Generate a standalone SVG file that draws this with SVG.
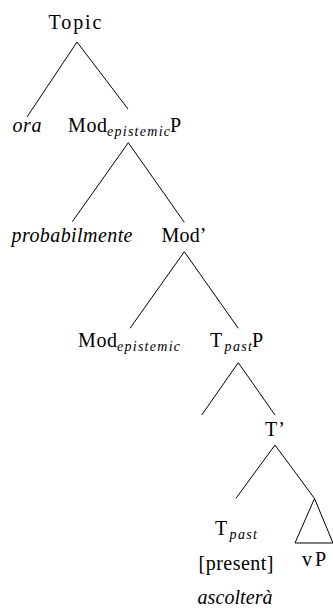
<svg xmlns="http://www.w3.org/2000/svg" width="333" height="609" viewBox="0 0 333 609">
<style>
text{font-size:20px;fill:#000}
.it{font-style:italic}
.sub{font-style:italic;font-size:14px}
.edge{stroke:#000;stroke-width:1;fill:none}
</style>
<rect width="333" height="609" fill="#fff"/>
<g id="connectors">
<line class="edge" x1="77" y1="42" x2="27" y2="117"/>
<line class="edge" x1="77" y1="42" x2="128" y2="109"/>
<line class="edge" x1="128.3" y1="142.7" x2="72.3" y2="221.7"/>
<line class="edge" x1="128.3" y1="142.7" x2="184.3" y2="222.3"/>
<line class="edge" x1="184.3" y1="251.7" x2="130" y2="328.3"/>
<line class="edge" x1="184.3" y1="251.7" x2="238.3" y2="328.3"/>
<line class="edge" x1="238.3" y1="362.7" x2="201.7" y2="415"/>
<line class="edge" x1="238.3" y1="362.7" x2="275" y2="415"/>
<line class="edge" x1="275" y1="445" x2="236" y2="498.3"/>
<line class="edge" x1="275" y1="445" x2="314.5" y2="498.5"/>
</g>
<g font-family="Liberation Serif, DejaVu Serif, serif">
<g id="topic"><text x="48.5" y="29" textLength="53" lengthAdjust="spacing">Topic</text></g>
<g id="ora"><text class="it" x="12.5" y="132" textLength="29" lengthAdjust="spacing">ora</text></g>
<g id="modP">
<text x="68" y="132" textLength="39" lengthAdjust="spacing">Mod</text>
<text class="sub" x="107" y="135.5" textLength="63" lengthAdjust="spacing">epistemic</text>
<text x="170" y="132" textLength="13.6" lengthAdjust="spacing">P</text>
</g>
<g id="probabilmente"><text class="it" x="11.5" y="242" textLength="121" lengthAdjust="spacing">probabilmente</text></g>
<g id="modbar"><text x="161.5" y="242" textLength="45" lengthAdjust="spacing">Mod’</text></g>
<g id="mod">
<text x="78" y="347" textLength="39" lengthAdjust="spacing">Mod</text>
<text class="sub" x="117" y="350.5" textLength="63" lengthAdjust="spacing">epistemic</text>
</g>
<g id="tpastP">
<text x="210" y="347" textLength="14.4" lengthAdjust="spacing">T</text>
<text class="sub" x="224.5" y="350.5" textLength="27.5" lengthAdjust="spacing">past</text>
<text x="252" y="347" textLength="13.6" lengthAdjust="spacing">P</text>
</g>
<g id="tbar"><text x="265" y="436" textLength="20" lengthAdjust="spacing">T’</text></g>
<g id="tpast">
<text x="215" y="535" textLength="14.4" lengthAdjust="spacing">T</text>
<text class="sub" x="229.5" y="538.5" textLength="27.5" lengthAdjust="spacing">past</text>
<text x="198.5" y="570" textLength="75" lengthAdjust="spacing">[present]</text>
<text class="it" x="197.5" y="604" textLength="75" lengthAdjust="spacing">ascolterà</text>
</g>
<g id="vP">
<polygon class="edge" points="314.5,498.5 295,543 333,543"/>
<text x="302" y="566" textLength="24" lengthAdjust="spacing">vP</text>
</g>
</g>
</svg>
